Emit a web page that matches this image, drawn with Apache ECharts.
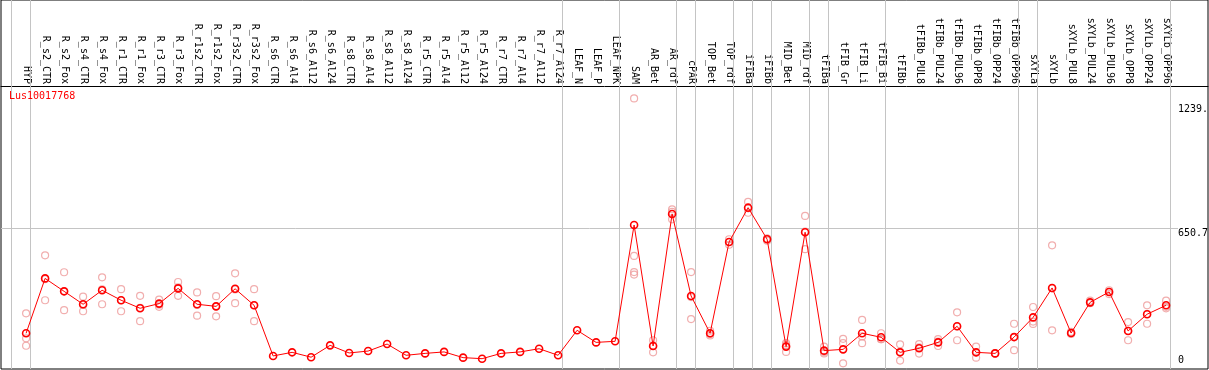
<!DOCTYPE html>
<html>
<head>
<meta charset="utf-8">
<script src="https://cdn.jsdelivr.net/npm/echarts@6.0.0/dist/echarts.min.js"></script>
<style>
html,body{margin:0;padding:0;background:#fff;}
#chart{width:1209px;height:370px;}
</style>
</head>
<body>
<div id="chart"></div>
<script>
const geneId = 'Lus10017768';
const categories = ['HYP','R_s2_CTR','R_s2_Fox','R_s4_CTR','R_s4_Fox','R_r1_CTR','R_r1_Fox','R_r3_CTR','R_r3_Fox','R_r1s2_CTR','R_r1s2_Fox','R_r3s2_CTR','R_r3s2_Fox','R_s6_CTR','R_s6_Al4','R_s6_Al12','R_s6_Al24','R_s8_CTR','R_s8_Al4','R_s8_Al12','R_s8_Al24','R_r5_CTR','R_r5_Al4','R_r5_Al12','R_r5_Al24','R_r7_CTR','R_r7_Al4','R_r7_Al12','R_r7_Al24','LEAF_N','LEAF_P','LEAF_NPK','SAM','AR_Bet','AR_rdf','cPAR','TOP_Bet','TOP_rdf','iFIBa','iFIBb','MID_Bet','MID_rdf','tFIBa','tFIB_Gr','tFIB_Li','tFIB_Bi','tFIBb','tFIBb_PUL8','tFIBb_PUL24','tFIBb_PUL96','tFIBb_OPP8','tFIBb_OPP24','tFIBb_OPP96','sXYLa','sXYLb','sXYLb_PUL8','sXYLb_PUL24','sXYLb_PUL96','sXYLb_OPP8','sXYLb_OPP24','sXYLb_OPP96'];
const meanValues = [155,414,353,292,358,311,273,295,367,292,282,365,287,48,65,42,98,62,71,104,51,60,67,40,35,60,67,82,51,169,112,117,666,95,718,331,155,586,748,599,92,632,73,79,155,136,65,84,112,188,65,60,137,230,369,156,301,350,166,245,287];
const replicates = [
  [249,131,96],[523,311,410],[443,264,353],[328,259,289],[419,292,362],[363,259,311],[332,212,275],[314,280,290],[397,332,372],[348,238,289],[330,235,282],[438,297,362],[363,212,287],
  [],[],[],[],[],[],[],[],[],[],[],[],[],[],[],[],[],[],[],
  [1264,520,444,432],[122,65,97],[740,728,693],[444,222,326],[167,145,152],[599,573,586],[775,724,745],[602,592,602],[108,67,100],[709,552,635],[92,60,66],[129,108,13],[218,108,140],[155,127,127],[103,26,67],[104,59,89],[127,95,116],[254,122,188],[92,40,64],[60,60,60],[200,75,137],[279,199,210],[570,169,367],[162,152,155],[309,297,298],[358,340,351],[208,122,167],[287,200,246],[309,273,280]
];
const separatorAfter = [-1,0,28,31,34,35,37,38,39,41,42,45,52,53,60];
const yTickValues = [0, 650.7, 1239];
const yTickLabels = ['0', '650.7', '1239.'];
const gridLineValue = 650.7;

const FONT = 'DejaVu Sans Mono';
const meanData = meanValues.map((v, i) => [i, v]);
const repData = [];
replicates.forEach((arr, i) => arr.forEach(v => repData.push([i, v])));
const sepLines = separatorAfter.map(i => ({xAxis: i + 0.237}));
const lastIdx = categories.length - 1;

const chart = echarts.init(document.getElementById('chart'), null, {renderer: 'canvas'});
chart.setOption({
  animation: false,
  backgroundColor: '#fff',
  title: {
    text: geneId, left: 9, top: 91, padding: 0,
    textStyle: {color: '#ff0000', fontFamily: FONT, fontSize: 10, fontWeight: 'normal'}
  },
  grid: {left: 1, right: 1, top: 0, bottom: 1, containLabel: false, outerBoundsMode: 'none',
         show: true, borderColor: '#000', borderWidth: 1, backgroundColor: 'transparent'},
  xAxis: {
    type: 'value', min: -1.3211, max: 62.2053, position: 'top', offset: -86,
    axisLine: {show: true, onZero: false, lineStyle: {color: '#000', width: 1}},
    axisTick: {show: false}, splitLine: {show: false},
    axisLabel: {
      customValues: categories.map((c, i) => i),
      formatter: v => categories[Math.round(v)] || '',
      rotate: 90, margin: 2, color: '#000', fontFamily: FONT, fontSize: 10
    }
  },
  yAxis: {
    type: 'value', min: -13.7, max: 1728.5, position: 'right', z: 10,
    axisLine: {show: false, onZero: false}, axisTick: {show: false}, splitLine: {show: false},
    axisLabel: {
      inside: true, align: 'left', margin: 30, verticalAlign: 'middle', lineHeight: 11,
      customValues: yTickValues,
      formatter: v => {
        const k = yTickValues.findIndex(t => Math.abs(t - v) < 1e-6);
        const s = k >= 0 ? yTickLabels[k] : '';
        return v === 0 ? s + '\n' : '\n' + s;
      },
      color: '#000', fontFamily: FONT, fontSize: 10
    }
  },
  series: [
    {
      type: 'scatter', name: 'guides', data: [], z: 1, silent: true,
      markLine: {
        silent: true, symbol: 'none', z: 1, animation: false,
        label: {show: false}, emphasis: {disabled: true},
        lineStyle: {color: '#c4c4c4', width: 1, type: 'solid'},
        data: sepLines.concat([[{coord: [-1.3211, gridLineValue]}, {coord: [lastIdx + 0.63, gridLineValue]}]])
      }
    },
    {
      type: 'scatter', name: 'replicates', data: repData, z: 2, silent: true,
      symbol: 'circle', symbolSize: 7,
      itemStyle: {color: 'rgba(0,0,0,0)', borderColor: '#ee9a9a', borderWidth: 1.2}
    },
    {
      type: 'line', name: 'mean', data: meanData, z: 3, silent: true,
      symbol: 'circle', symbolSize: 7, showAllSymbol: true,
      lineStyle: {color: '#ff0000', width: 1},
      itemStyle: {color: 'rgba(0,0,0,0)', borderColor: '#ff0000', borderWidth: 1.6}
    }
  ]
});
</script>
</body>
</html>
